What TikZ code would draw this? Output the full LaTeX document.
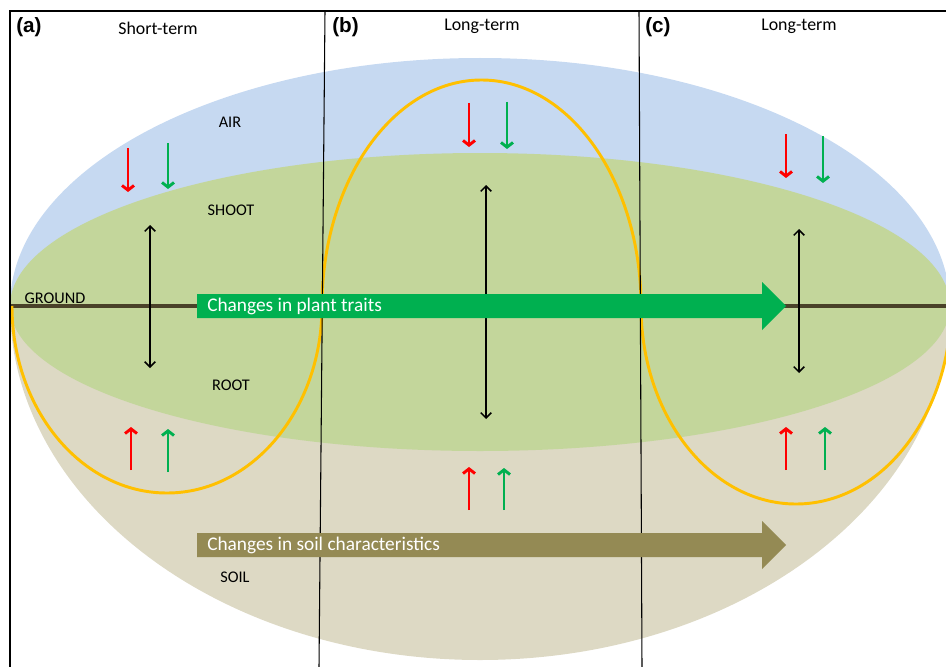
\documentclass[tikz,border=0pt]{standalone}
\usepackage{fontspec}
\setmainfont{Carlito}
\newfontfamily\tagfont{Liberation Sans}
\usetikzlibrary{arrows.meta}
\definecolor{skyblue}{HTML}{C6D9F1}
\definecolor{plantgreen}{HTML}{C3D69B}
\definecolor{soiltan}{HTML}{DDD9C4}
\definecolor{groundbrown}{HTML}{4A4229}
\definecolor{traitgreen}{HTML}{00B050}
\definecolor{soilolive}{HTML}{948A54}
\definecolor{ringgold}{HTML}{FFC000}
\tikzset{
    paneltag/.style={anchor=west, inner sep=0pt, font=\tagfont\bfseries\fontsize{15.5}{18}\selectfont},
    paneltitle/.style={inner sep=0pt, font=\fontsize{13.4}{16}\selectfont},
    layer/.style={inner sep=0pt, font=\fontsize{12.2}{14}\selectfont},
    bandtext/.style={anchor=west, inner sep=0pt, text=white, font=\fontsize{14.5}{17}\selectfont},
    flux/.style={line width=2.2pt, -{Straight Barb[length=3.5pt,width=9pt]}},
    tradeoff/.style={line width=1.1pt, {Straight Barb[length=4pt,width=8pt]}-{Straight Barb[length=4pt,width=8pt]}},
    frame/.style={line width=0.8pt}
}

\begin{document}
\begin{tikzpicture}[x=0.75pt, y=-0.75pt]
    \useasboundingbox (0,0) rectangle (946,667);
    \clip (0,0) rectangle (946,667);

    % air, soil and plant layers
    \fill[skyblue] (10,306) arc[start angle=180, end angle=360, x radius=470, y radius=248] -- cycle;
    \fill[soiltan] (10,306) arc[start angle=180, end angle=0, x radius=470, y radius=354] -- cycle;
    \fill[plantgreen] (10,306) arc[start angle=180, end angle=360, x radius=470, y radius=153]
        arc[start angle=0, end angle=180, x radius=470, y radius=145] -- cycle;
    \draw[groundbrown, line width=3pt] (10,306) -- (946,306);

    % plant outline
    \draw[ringgold, line width=2.2pt] (12,306)
        arc[start angle=180, end angle=0, x radius=155, y radius=187]
        arc[start angle=180, end angle=360, x radius=159.5, y radius=226]
        arc[start angle=180, end angle=0, x radius=155, y radius=198];

    % panel frames
    \draw[frame] (10,667) -- (10,11) -- (946,11);
    \draw[frame] (325,11) -- (319,667);
    \draw[frame] (639,11) -- (642,667);

    \node[paneltag] (tagA) at (16,27) {(a)};
    \node[paneltitle] (titleA) at (158,28) {Short-term};
    \node[paneltag] (tagB) at (332,27) {(b)};
    \node[paneltitle] (titleB) at (482,26) {Long-term};
    \node[paneltag] (tagC) at (645,27) {(c)};
    \node[paneltitle] (titleC) at (799,26) {Long-term};

    \node[layer] (air) at (230,122) {AIR};
    \node[layer] (shoot) at (231,210) {SHOOT};
    \node[layer] (ground) at (55,298) {GROUND};
    \node[layer] (root) at (231,385) {ROOT};
    \node[layer] (soil) at (235,577) {SOIL};

    % panel (a)
    \coordinate (aRdTop) at (128,148); \coordinate (aRdEnd) at (128,192);
    \coordinate (aGdTop) at (168,143); \coordinate (aGdEnd) at (168,189);
    \coordinate (aShoot) at (150,225); \coordinate (aRoot) at (150,368);
    \coordinate (aRuBot) at (131,470); \coordinate (aRuEnd) at (131,427);
    \coordinate (aGuBot) at (168,472); \coordinate (aGuEnd) at (168,429);
    \draw[tradeoff] (aShoot) -- (aRoot);
    \draw[flux, red] (aRdTop) -- (aRdEnd);
    \draw[flux, traitgreen] (aGdTop) -- (aGdEnd);
    \draw[flux, red] (aRuBot) -- (aRuEnd);
    \draw[flux, traitgreen] (aGuBot) -- (aGuEnd);

    % panel (b)
    \coordinate (bRdTop) at (469,103); \coordinate (bRdEnd) at (469,147);
    \coordinate (bGdTop) at (507,102); \coordinate (bGdEnd) at (507,149);
    \coordinate (bShoot) at (486,185); \coordinate (bRoot) at (486,419);
    \coordinate (bRuBot) at (469,510); \coordinate (bRuEnd) at (469,467);
    \coordinate (bGuBot) at (504,510); \coordinate (bGuEnd) at (504,468);
    \draw[tradeoff] (bShoot) -- (bRoot);
    \draw[flux, red] (bRdTop) -- (bRdEnd);
    \draw[flux, traitgreen] (bGdTop) -- (bGdEnd);
    \draw[flux, red] (bRuBot) -- (bRuEnd);
    \draw[flux, traitgreen] (bGuBot) -- (bGuEnd);

    % panel (c)
    \coordinate (cRdTop) at (786,134); \coordinate (cRdEnd) at (786,178);
    \coordinate (cGdTop) at (823,136); \coordinate (cGdEnd) at (823,183);
    \coordinate (cShoot) at (799,229); \coordinate (cRoot) at (799,373);
    \coordinate (cRuBot) at (786,470); \coordinate (cRuEnd) at (786,427);
    \coordinate (cGuBot) at (825,470); \coordinate (cGuEnd) at (825,427);
    \draw[tradeoff] (cShoot) -- (cRoot);
    \draw[flux, red] (cRdTop) -- (cRdEnd);
    \draw[flux, traitgreen] (cGdTop) -- (cGdEnd);
    \draw[flux, red] (cRuBot) -- (cRuEnd);
    \draw[flux, traitgreen] (cGuBot) -- (cGuEnd);

    % broad arrows
    \fill[traitgreen] (197,294) -- (762,294) -- (762,282) -- (786,306) -- (762,330) -- (762,318) -- (197,318) -- cycle;
    \node[bandtext] (traits) at (207,306) {Changes in plant traits};
    \fill[soilolive] (197,533) -- (762,533) -- (762,521) -- (786,545) -- (762,569) -- (762,557) -- (197,557) -- cycle;
    \node[bandtext] (soilchar) at (207,545) {Changes in soil characteristics};
\end{tikzpicture}
\end{document}
